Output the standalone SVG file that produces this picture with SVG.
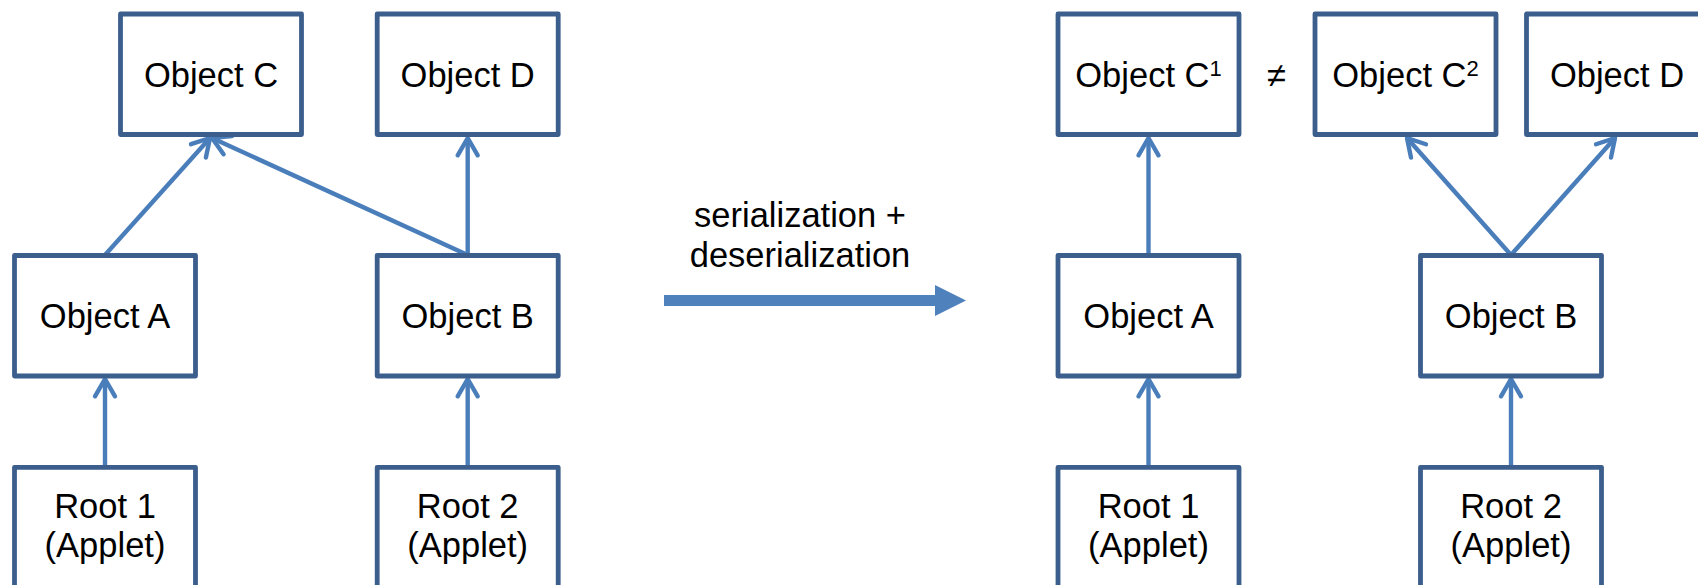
<svg xmlns="http://www.w3.org/2000/svg" width="1698" height="585" viewBox="0 0 1698 585">
  <style>
    .box { fill: #FFFFFF; stroke: #3B5E8C; stroke-width: 4.8; stroke-linejoin: round; }
    .lbl { font-family: "Liberation Sans", Arial, sans-serif; font-size: 34.5px; fill: #000000; text-anchor: middle; }
    .sup { font-size: 22px; }
    .conn { stroke: #4A7EBB; stroke-width: 4.4; fill: none; marker-end: url(#open); }
  </style>
  <defs>
    <marker id="open" markerUnits="userSpaceOnUse" orient="auto" refX="0" refY="0" markerWidth="30" markerHeight="30" overflow="visible">
      <path d="M -17.3 -10 L 0 0 L -17.3 10" fill="none" stroke="#4A7EBB" stroke-width="4.4" stroke-linecap="round" stroke-linejoin="round"/>
    </marker>
  </defs>
  <rect width="1698" height="585" fill="#FFFFFF"/>

  <g id="connectors">
    <line class="conn" x1="105" y1="255" x2="210" y2="138"/>
    <line class="conn" x1="467.7" y1="255" x2="212" y2="138"/>
    <line class="conn" x1="467.7" y1="255" x2="467.7" y2="138"/>
    <line class="conn" x1="105" y1="467" x2="105" y2="379"/>
    <line class="conn" x1="467.7" y1="467" x2="467.7" y2="379"/>
    <line class="conn" x1="1148.5" y1="255" x2="1148.5" y2="138"/>
    <line class="conn" x1="1511" y1="255" x2="1407" y2="138"/>
    <line class="conn" x1="1511" y1="255" x2="1615" y2="138"/>
    <line class="conn" x1="1148.5" y1="467" x2="1148.5" y2="379"/>
    <line class="conn" x1="1511" y1="467" x2="1511" y2="379"/>
  </g>

  <!-- left side -->
  <g id="objC">
    <rect class="box" x="120.5" y="14" width="181" height="120.5"/>
    <text class="lbl" x="211" y="87.3">Object C</text>
  </g>
  <g id="objD">
    <rect class="box" x="377.2" y="14" width="181" height="120.5"/>
    <text class="lbl" x="467.7" y="87.3">Object D</text>
  </g>
  <g id="objA">
    <rect class="box" x="14.5" y="255.5" width="181" height="120.5"/>
    <text class="lbl" x="105" y="328.3">Object A</text>
  </g>
  <g id="objB">
    <rect class="box" x="377.2" y="255.5" width="181" height="120.5"/>
    <text class="lbl" x="467.7" y="328.3">Object B</text>
  </g>
  <g id="root1">
    <rect class="box" x="14.5" y="467.3" width="181" height="200"/>
    <text class="lbl" x="105" y="517.7">Root 1</text>
    <text class="lbl" x="105" y="556.7">(Applet)</text>
  </g>
  <g id="root2">
    <rect class="box" x="377.2" y="467.3" width="181" height="200"/>
    <text class="lbl" x="467.7" y="517.7">Root 2</text>
    <text class="lbl" x="467.7" y="556.7">(Applet)</text>
  </g>

  <!-- transition -->
  <g id="transition">
    <text class="lbl" x="800" y="226.7">serialization +</text>
    <text class="lbl" x="800" y="266.7">deserialization</text>
    <path d="M 664 295 L 935 295 L 935 285 L 966 300.5 L 935 316 L 935 306 L 664 306 Z" fill="#4F81BD"/>
  </g>

  <!-- right side -->
  <g id="objC1">
    <rect class="box" x="1058" y="14" width="181" height="120.5"/>
    <text class="lbl" x="1148.5" y="87.3">Object C<tspan class="sup" dy="-11">1</tspan></text>
  </g>
  <g id="neq">
    <text class="lbl" x="1276.5" y="87.3">≠</text>
  </g>
  <g id="objC2">
    <rect class="box" x="1315" y="14" width="181" height="120.5"/>
    <text class="lbl" x="1405.5" y="87.3">Object C<tspan class="sup" dy="-11">2</tspan></text>
  </g>
  <g id="objD2">
    <rect class="box" x="1526.5" y="14" width="181" height="120.5"/>
    <text class="lbl" x="1617" y="87.3">Object D</text>
  </g>
  <g id="objA2">
    <rect class="box" x="1058" y="255.5" width="181" height="120.5"/>
    <text class="lbl" x="1148.5" y="328.3">Object A</text>
  </g>
  <g id="objB2">
    <rect class="box" x="1420.5" y="255.5" width="181" height="120.5"/>
    <text class="lbl" x="1511" y="328.3">Object B</text>
  </g>
  <g id="root1b">
    <rect class="box" x="1058" y="467.3" width="181" height="200"/>
    <text class="lbl" x="1148.5" y="517.7">Root 1</text>
    <text class="lbl" x="1148.5" y="556.7">(Applet)</text>
  </g>
  <g id="root2b">
    <rect class="box" x="1420.5" y="467.3" width="181" height="200"/>
    <text class="lbl" x="1511" y="517.7">Root 2</text>
    <text class="lbl" x="1511" y="556.7">(Applet)</text>
  </g>
</svg>
